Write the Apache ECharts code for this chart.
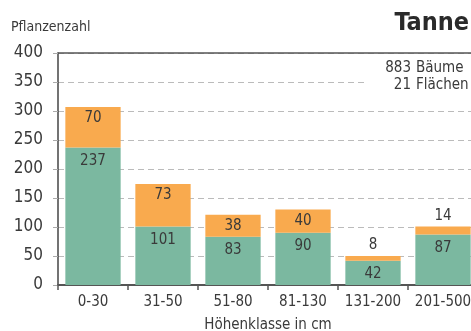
<!DOCTYPE html>
<html>
<head>
<meta charset="utf-8">
<script src="https://cdn.jsdelivr.net/npm/echarts@6/dist/echarts.min.js"></script>
<style>
  html, body { margin: 0; padding: 0; background: #fff; }
  #chart { width: 471px; height: 331px; }
</style>
</head>
<body>
<div id="chart"></div>
<script>
// Höhenklassen und Pflanzenzahlen
var categories = ['0-30', '31-50', '51-80', '81-130', '131-200', '201-500'];
var greenValues = [237, 101, 83, 90, 42, 87];
var orangeValues = [70, 73, 38, 40, 8, 14];
var yTicks = [0, 50, 100, 150, 200, 250, 300, 350, 400];
var infoNumbers = ['883', '21'];
var infoWords = ['Bäume', 'Flächen'];

var FONT = '"Liberation Sans Narrow", "DejaVu Sans Condensed", sans-serif';
var TXT = '#3a3a3a';

var chart = echarts.init(document.getElementById('chart'));

var option = {
  animation: false,
  textStyle: { fontFamily: FONT },
  title: {
    text: 'Tanne',
    right: -3,
    top: 6,
    textStyle: { fontFamily: FONT, fontSize: 25, fontWeight: 'bold', color: '#2a2a2a' }
  },
  grid: { left: 58, top: 53, width: 420, bottom: 46, containLabel: false, outerBoundsMode: 'none' },
  xAxis: [
    {
      type: 'category',
      data: categories,
      axisLine: { lineStyle: { color: '#555', width: 2 } },
      axisTick: { show: true, length: 5, lineStyle: { color: '#555', width: 1.5 } },
      axisLabel: { color: TXT, fontSize: 15, margin: 10, fontFamily: FONT, interval: 0 },
      name: 'Höhenklasse in cm',
      nameLocation: 'middle',
      nameGap: 33,
      nameTextStyle: { color: TXT, fontSize: 15, fontFamily: FONT }
    },
    {
      type: 'category',
      position: 'top',
      data: categories,
      axisLine: { show: true, lineStyle: { color: '#555', width: 1.5 } },
      axisTick: { show: false },
      axisLabel: { show: false }
    }
  ],
  yAxis: {
    type: 'value',
    min: yTicks[0],
    max: yTicks[yTicks.length - 1],
    interval: 50,
    axisLine: { show: true, lineStyle: { color: '#444', width: 1.5 } },
    axisTick: { show: true, length: 5, lineStyle: { color: '#aaa' } },
    axisLabel: { color: TXT, fontSize: 17, margin: 15, fontFamily: FONT },
    splitLine: { lineStyle: { color: '#bbb', type: [6, 4], width: 1 } }
  },
  series: [
    {
      type: 'bar',
      stack: 'total',
      data: greenValues,
      barCategoryGap: '21%',
      itemStyle: { color: '#7bb8a0' },
      label: {
        show: true, position: 'insideTop', distance: 6,
        color: TXT, fontSize: 15, fontFamily: FONT
      }
    },
    {
      type: 'bar',
      stack: 'total',
      data: orangeValues.map(function (v) {
        return {
          value: v,
          label: v < 20 ? { position: 'top', distance: 3 } : { position: 'insideTop', distance: 4 }
        };
      }),
      itemStyle: { color: '#f9aa4e' },
      label: { show: true, color: TXT, fontSize: 15, fontFamily: FONT }
    }
  ],
  graphic: [
    {
      type: 'text', left: 11, top: 20, z: 10,
      style: { text: 'Pflanzenzahl', fill: TXT, fontSize: 14, fontFamily: FONT }
    },
    {
      type: 'rect', z: 5,
      shape: { x: 368, y: 57, width: 110, height: 38 },
      style: { fill: '#fff' }
    },
    {
      type: 'text', x: 411, y: 68, z: 10,
      style: { text: infoNumbers[0], fill: TXT, fontSize: 15, fontFamily: FONT, align: 'right', verticalAlign: 'middle' }
    },
    {
      type: 'text', x: 416, y: 68, z: 10,
      style: { text: infoWords[0], fill: TXT, fontSize: 15, fontFamily: FONT, align: 'left', verticalAlign: 'middle' }
    },
    {
      type: 'text', x: 411, y: 85, z: 10,
      style: { text: infoNumbers[1], fill: TXT, fontSize: 15, fontFamily: FONT, align: 'right', verticalAlign: 'middle' }
    },
    {
      type: 'text', x: 416, y: 85, z: 10,
      style: { text: infoWords[1], fill: TXT, fontSize: 15, fontFamily: FONT, align: 'left', verticalAlign: 'middle' }
    }
  ]
};

chart.setOption(option);
</script>
</body>
</html>
